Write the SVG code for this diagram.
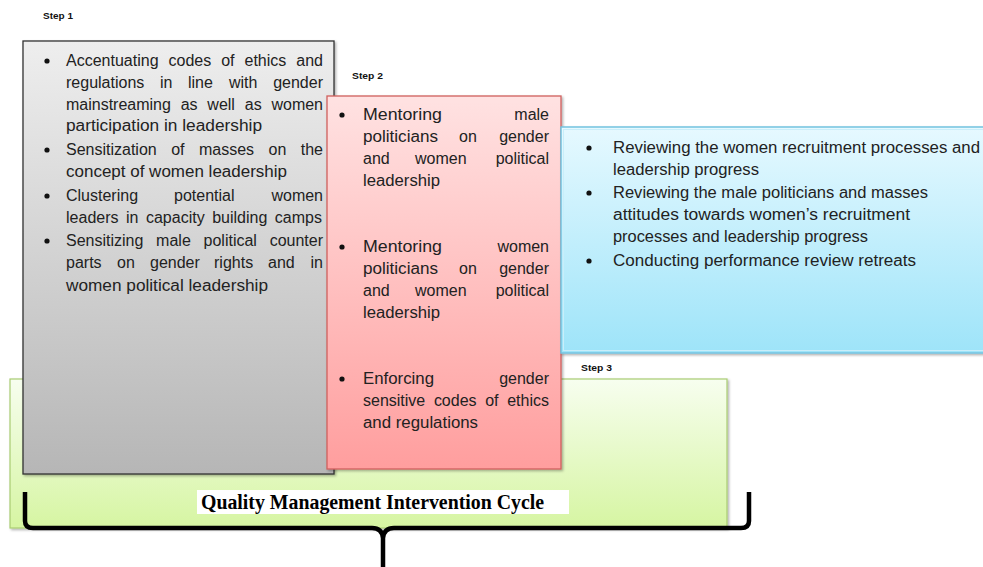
<svg xmlns="http://www.w3.org/2000/svg" width="983" height="567" viewBox="0 0 983 567">
  <defs>
    <linearGradient id="gGray" x1="0" y1="0" x2="0" y2="1">
      <stop offset="0" stop-color="#eeeeee"/>
      <stop offset="1" stop-color="#b6b6b6"/>
    </linearGradient>
    <linearGradient id="gPink" x1="0" y1="0" x2="0" y2="1">
      <stop offset="0" stop-color="#ffe2e2"/>
      <stop offset="1" stop-color="#ff9e9e"/>
    </linearGradient>
    <linearGradient id="gBlue" x1="0" y1="0" x2="0" y2="1">
      <stop offset="0" stop-color="#e6f9ff"/>
      <stop offset="1" stop-color="#9ee4f9"/>
    </linearGradient>
    <linearGradient id="gGreen" x1="0" y1="0" x2="0" y2="1">
      <stop offset="0" stop-color="#f7feef"/>
      <stop offset="1" stop-color="#d6f5a2"/>
    </linearGradient>
    <filter id="shadow" x="-5%" y="-5%" width="115%" height="115%">
      <feDropShadow dx="1.5" dy="1.5" stdDeviation="1.2" flood-color="#000" flood-opacity="0.3"/>
    </filter>
  </defs>
  <style>
    .body { font-family: "Liberation Sans", Arial, sans-serif; font-size: 16px; fill: #222; }
    .step { font-family: "Liberation Sans", Arial, sans-serif; font-size: 9.5px; font-weight: bold; fill: #111; }
    .title { font-family: "Liberation Serif", "Times New Roman", serif; font-size: 20px; font-weight: bold; fill: #000; }
    .bullet { fill: #111; }
    .end { text-anchor: end; }
  </style>

  <rect width="983" height="567" fill="#ffffff"/>

  <!-- Cycle frame (green) -->
  <g id="cycle">
    <rect x="10" y="379" width="717" height="149" fill="url(#gGreen)" stroke="#a9cc72" stroke-width="1.2" filter="url(#shadow)"/>
  </g>

  <!-- Step 1 -->
  <g id="step1">
    <text class="step" x="43" y="19" textLength="30" lengthAdjust="spacingAndGlyphs">Step 1</text>
    <rect x="23" y="41" width="311" height="433" fill="url(#gGray)" stroke="#333333" stroke-width="1.3" filter="url(#shadow)"/>
    <g class="bullet">
      <circle cx="47" cy="61" r="2.6"/>
      <circle cx="47" cy="150" r="2.6"/>
      <circle cx="47" cy="196" r="2.6"/>
      <circle cx="47" cy="241" r="2.6"/>
    </g>
    <g class="body">
      <text x="66" y="66" word-spacing="5.5" textLength="257" lengthAdjust="spacing">Accentuating codes of ethics and</text>
      <text x="66" y="88">regulations</text>
      <text x="160" y="88">in</text>
      <text x="188" y="88">line</text>
      <text x="229" y="88">with</text>
      <text class="end" x="323" y="88">gender</text>
      <text x="66" y="110" word-spacing="5.4" textLength="257" lengthAdjust="spacing">mainstreaming as well as women</text>
      <text x="66" y="131" textLength="196" lengthAdjust="spacingAndGlyphs">participation in leadership</text>
      <text x="66" y="155" word-spacing="10" textLength="257" lengthAdjust="spacing">Sensitization of masses on the</text>
      <text x="66" y="177" textLength="221" lengthAdjust="spacingAndGlyphs">concept of women leadership</text>
      <text x="66" y="201">Clustering</text>
      <text x="174" y="201">potential</text>
      <text class="end" x="323" y="201">women</text>
      <text x="66" y="223" word-spacing="3" textLength="256" lengthAdjust="spacing">leaders in capacity building camps</text>
      <text x="66" y="246" word-spacing="8.3" textLength="257" lengthAdjust="spacing">Sensitizing male political counter</text>
      <text x="66" y="268">parts</text>
      <text x="117" y="268">on</text>
      <text x="150" y="268">gender</text>
      <text x="214" y="268">rights</text>
      <text x="268" y="268">and</text>
      <text class="end" x="323" y="268">in</text>
      <text x="66" y="291" textLength="202" lengthAdjust="spacingAndGlyphs">women political leadership</text>
    </g>
  </g>

  <!-- Step 2 -->
  <g id="step2">
    <text class="step" x="352" y="79" textLength="31" lengthAdjust="spacingAndGlyphs">Step 2</text>
    <rect x="327" y="96" width="234" height="373" fill="url(#gPink)" stroke="#d0605e" stroke-width="1.3" filter="url(#shadow)"/>
    <g class="bullet">
      <circle cx="342" cy="115" r="2.6"/>
      <circle cx="342" cy="247" r="2.6"/>
      <circle cx="342" cy="379" r="2.6"/>
    </g>
    <g class="body">
      <text x="363" y="120" textLength="79" lengthAdjust="spacingAndGlyphs">Mentoring</text>
      <text class="end" x="549" y="120">male</text>
      <text x="363" y="142" textLength="75" lengthAdjust="spacingAndGlyphs">politicians</text>
      <text x="459" y="142">on</text>
      <text class="end" x="549" y="142">gender</text>
      <text x="363" y="164">and</text>
      <text x="415" y="164">women</text>
      <text class="end" x="549" y="164">political</text>
      <text x="363" y="186" textLength="77" lengthAdjust="spacingAndGlyphs">leadership</text>

      <text x="363" y="252" textLength="79" lengthAdjust="spacingAndGlyphs">Mentoring</text>
      <text class="end" x="549" y="252">women</text>
      <text x="363" y="274" textLength="75" lengthAdjust="spacingAndGlyphs">politicians</text>
      <text x="459" y="274">on</text>
      <text class="end" x="549" y="274">gender</text>
      <text x="363" y="296">and</text>
      <text x="415" y="296">women</text>
      <text class="end" x="549" y="296">political</text>
      <text x="363" y="318" textLength="77" lengthAdjust="spacingAndGlyphs">leadership</text>

      <text x="363" y="384" textLength="71" lengthAdjust="spacingAndGlyphs">Enforcing</text>
      <text class="end" x="549" y="384">gender</text>
      <text x="363" y="406" word-spacing="4.2" textLength="186" lengthAdjust="spacing">sensitive codes of ethics</text>
      <text x="363" y="428" textLength="115" lengthAdjust="spacingAndGlyphs">and regulations</text>
    </g>
  </g>

  <!-- Step 3 -->
  <g id="step3">
    <text class="step" x="581" y="371" textLength="31" lengthAdjust="spacingAndGlyphs">Step 3</text>
    <rect x="561" y="127" width="430" height="226" fill="url(#gBlue)" stroke="#74c3df" stroke-width="1.5" filter="url(#shadow)"/>
    <rect x="563.5" y="129.5" width="430" height="221" fill="none" stroke="#c9eefa" stroke-width="1"/>
    <g class="bullet">
      <circle cx="589" cy="148" r="2.6"/>
      <circle cx="589" cy="193" r="2.6"/>
      <circle cx="589" cy="261" r="2.6"/>
    </g>
    <g class="body">
      <text x="613" y="153" textLength="367" lengthAdjust="spacingAndGlyphs">Reviewing the women recruitment processes and</text>
      <text x="613" y="175" textLength="146" lengthAdjust="spacingAndGlyphs">leadership progress</text>
      <text x="613" y="198" textLength="315" lengthAdjust="spacingAndGlyphs">Reviewing the male politicians and masses</text>
      <text x="613" y="220" textLength="297" lengthAdjust="spacingAndGlyphs">attitudes towards women’s recruitment</text>
      <text x="613" y="242" textLength="255" lengthAdjust="spacingAndGlyphs">processes and leadership progress</text>
      <text x="613" y="266" textLength="303" lengthAdjust="spacingAndGlyphs">Conducting performance review retreats</text>
    </g>
  </g>

  <!-- Brace and cycle caption -->
  <g id="connectors">
    <path d="M25,492 L25,521 Q25,528 33,528 L372,528 Q382,528 383,538 L383,567 M383,538 Q384,528 394,528 L741,528 Q749,528 749,521 L749,492"
          fill="none" stroke="#000" stroke-width="4.5" stroke-linejoin="round"/>
  </g>
  <g id="caption">
    <rect x="197" y="490" width="372" height="24" fill="#ffffff"/>
    <text class="title" x="201" y="509" textLength="343" lengthAdjust="spacingAndGlyphs">Quality Management Intervention Cycle</text>
  </g>
</svg>
